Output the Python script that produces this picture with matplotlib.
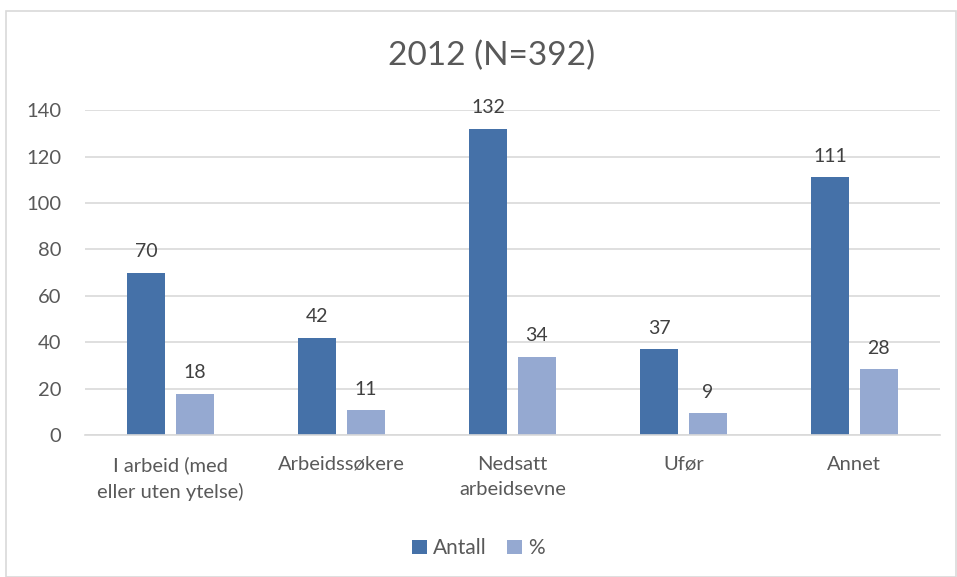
import matplotlib.pyplot as plt
import numpy as np
from matplotlib.patches import Rectangle

plt.rcParams['font.family'] = ['Lato', 'DejaVu Sans']

categories = ['I arbeid (med\neller uten ytelse)', 'Arbeidssøkere', 'Nedsatt\narbeidsevne', 'Ufør', 'Annet']
antall = [70, 42, 132, 37, 111]
prosent = [17.9, 10.7, 33.7, 9.4, 28.3]

dark = '#4571A8'
light = '#95A9D1'
txt = '#595959'

fig = plt.figure(figsize=(9.57, 5.77), dpi=100)
fig.patches.append(Rectangle((0.006, 0.0), 0.993, 0.981, transform=fig.transFigure,
                             fill=False, edgecolor='#D9D9D9', linewidth=1.2))
ax = fig.add_axes([0.089, 0.246, 0.893, 0.563])

x = np.arange(len(categories))
w = 0.222
gap = 0.064
b1 = ax.bar(x - (w + gap) / 2, antall, w, color=dark, label='Antall')
b2 = ax.bar(x + (w + gap) / 2, prosent, w, color=light, label='%')

for bars, vals in ((b1, antall), (b2, prosent)):
    for b, v in zip(bars, vals):
        ax.annotate('%.0f' % v, (b.get_x() + b.get_width() / 2, v), xytext=(0, 9),
                    textcoords='offset points', ha='center', va='bottom',
                    fontsize=14, color='#404040')

ax.set_ylim(0, 140)
ax.set_xlim(-0.5, len(categories) - 0.5)
ax.set_yticks(range(0, 141, 20))
ax.yaxis.grid(True, color='#D9D9D9', linewidth=1.2)
ax.set_axisbelow(True)
for s in ['top', 'right', 'left']:
    ax.spines[s].set_visible(False)
ax.spines['bottom'].set_color('#D9D9D9')
ax.spines['bottom'].set_linewidth(1.2)
ax.tick_params(length=0, labelsize=14.5, colors=txt)
ax.tick_params(axis='y', pad=17)
ax.tick_params(axis='x', pad=15)
ax.set_xticks(x)
ax.set_xticklabels(categories, linespacing=1.6)

fig.text(0.514, 0.903, '2012 (N=392)', ha='center', va='center', fontsize=24, color=txt)
fig.legend(loc='center', bbox_to_anchor=(0.5, 0.05), ncol=2, frameon=False,
           fontsize=15, labelcolor=txt, handlelength=0.7, handleheight=0.7,
           handletextpad=0.3, columnspacing=1.0)

fig.savefig('out.png', dpi=100)
